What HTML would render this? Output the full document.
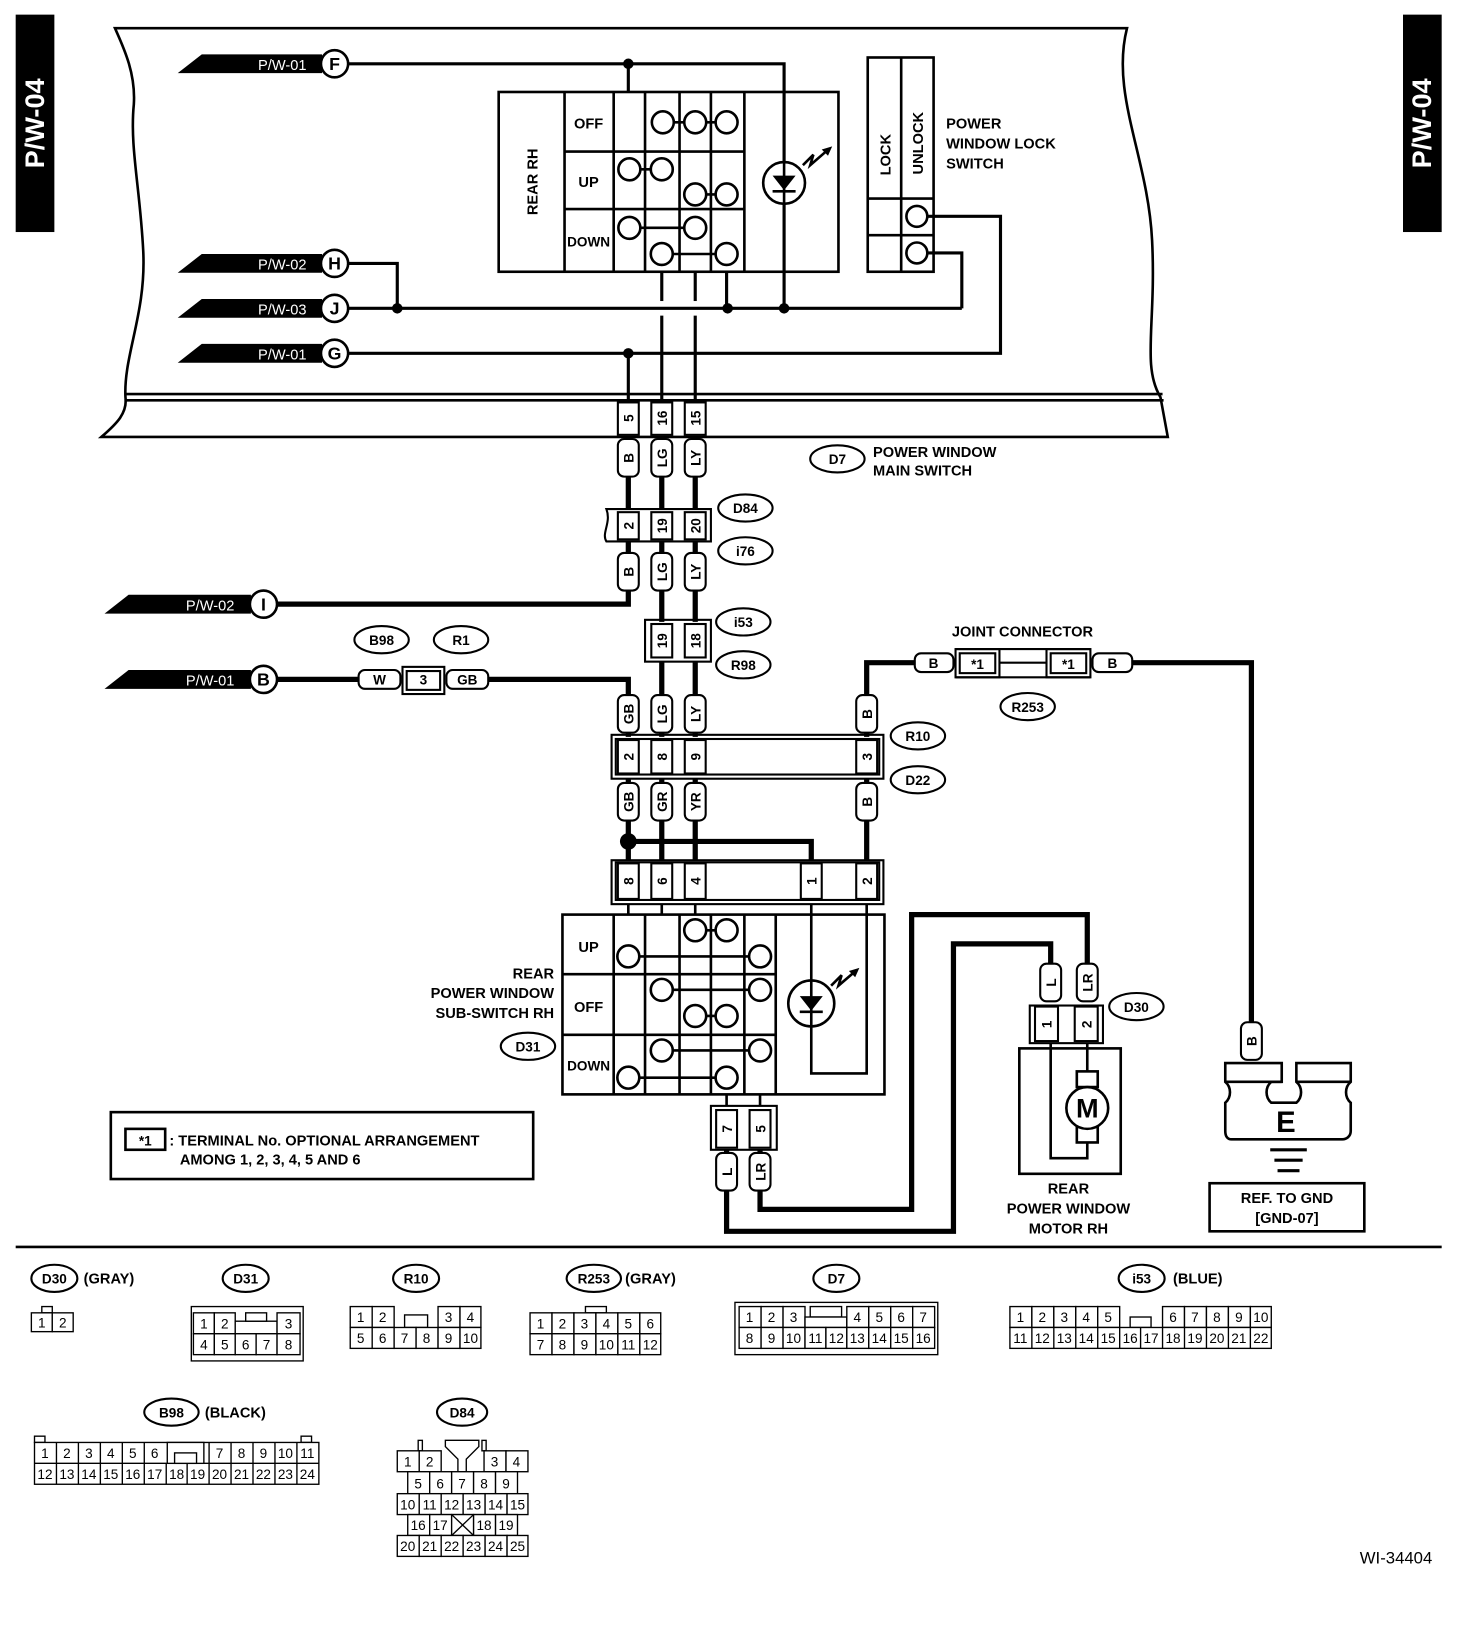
<!DOCTYPE html>
<html><head><meta charset="utf-8"><style>
html,body{margin:0;padding:0;background:#fff}
svg{display:block}
text{font-family:"Liberation Sans",Arial,sans-serif;font-weight:bold;fill:#000}
.n{font-weight:normal;font-size:13px;text-anchor:middle}
.c{fill:#fff;stroke:#000;stroke-width:1.3}
.lb{font-size:14px}
.t{fill:#fff;stroke:#000;stroke-width:2}
.m{text-anchor:middle}
</style></head><body>
<svg width="1472" height="1640" viewBox="0 0 1408 1569" preserveAspectRatio="none" xmlns="http://www.w3.org/2000/svg">
<rect width="1408" height="1569" fill="#fff"/>
<!-- side tabs -->
<rect x="15" y="14" width="37" height="208" fill="#000"/>
<text transform="translate(42,118) rotate(-90)" class="m" font-size="26" style="fill:#fff">P/W-04</text>
<rect x="1342" y="14" width="37" height="208" fill="#000"/>
<text transform="translate(1369,118) rotate(-90)" class="m" font-size="26" style="fill:#fff">P/W-04</text>

<!-- outline -->
<g fill="none" stroke="#000" stroke-width="2.5">
<path d="M110,27 L1078,27 C1062,90 1098,150 1102,230 C1106,310 1092,350 1110,380 L1117,418 L97,418 C112,405 122,395 120,380 C118,340 140,300 137,240 C134,180 124,140 128,100 C130,70 118,45 110,27 Z"/>
<line x1="119" y1="377" x2="1112" y2="377"/>
<line x1="119" y1="383" x2="1113" y2="383"/>
</g>

<!-- flags -->
<g>
<polygon points="170,70 193,52 308,52 308,70" fill="#000"/><text x="270" y="67" class="m" font-size="14" font-weight="normal" style="fill:#fff;font-weight:normal">P/W-01</text>
<polygon points="170,261 193,243 308,243 308,261" fill="#000"/><text x="270" y="258" class="m" font-size="14" style="fill:#fff;font-weight:normal">P/W-02</text>
<polygon points="170,304 193,286 308,286 308,304" fill="#000"/><text x="270" y="301" class="m" font-size="14" style="fill:#fff;font-weight:normal">P/W-03</text>
<polygon points="170,347 193,329 308,329 308,347" fill="#000"/><text x="270" y="344" class="m" font-size="14" style="fill:#fff;font-weight:normal">P/W-01</text>
<polygon points="100,587 123,569 240,569 240,587" fill="#000"/><text x="201" y="584" class="m" font-size="14" style="fill:#fff;font-weight:normal">P/W-02</text>
<polygon points="100,659 123,641 240,641 240,659" fill="#000"/><text x="201" y="656" class="m" font-size="14" style="fill:#fff;font-weight:normal">P/W-01</text>
</g>

<!-- top wires -->
<g stroke="#000" stroke-width="3" fill="none">
<polyline points="333,61 750,61 750,295"/>
<line x1="601" y1="61" x2="601" y2="88"/>
<polyline points="333,252 380,252 380,295"/>
<line x1="333" y1="295" x2="920" y2="295"/>
<polyline points="333,338 957,338 957,207 888,207"/>
<polyline points="920,295 920,242 888,242"/>
<line x1="601" y1="338" x2="601" y2="383"/>
<line x1="633" y1="260" x2="633" y2="288"/><line x1="633" y1="302" x2="633" y2="383"/>
<line x1="665" y1="260" x2="665" y2="288"/><line x1="665" y1="302" x2="665" y2="383"/>
<line x1="695" y1="260" x2="695" y2="295"/>
</g>
<g fill="#000"><circle cx="601" cy="61" r="5"/><circle cx="380" cy="295" r="5"/><circle cx="696" cy="295" r="5"/><circle cx="750" cy="295" r="5"/><circle cx="601" cy="338" r="5"/></g>
<g stroke="#000" stroke-width="2.5" fill="#fff">
<circle cx="320" cy="61" r="13"/><circle cx="320" cy="252" r="13"/><circle cx="320" cy="295" r="13"/><circle cx="320" cy="338" r="13"/>
<circle cx="252" cy="578" r="13"/><circle cx="252" cy="650" r="13"/>
</g>
<g font-size="17" class="m" text-anchor="middle">
<text x="320" y="67" text-anchor="middle">F</text><text x="320" y="258" text-anchor="middle">H</text><text x="320" y="301" text-anchor="middle">J</text><text x="320" y="344" text-anchor="middle">G</text>
<text x="252" y="584" text-anchor="middle">I</text><text x="252" y="656" text-anchor="middle">B</text>
</g>

<!-- main switch box -->
<g stroke="#000" stroke-width="2.5" fill="none">
<rect x="477" y="88" width="325" height="172"/>
<line x1="540" y1="88" x2="540" y2="260"/>
<line x1="540" y1="145" x2="712" y2="145"/><line x1="540" y1="200" x2="712" y2="200"/>
<line x1="587" y1="88" x2="587" y2="260"/><line x1="617" y1="88" x2="617" y2="260"/>
<line x1="650" y1="88" x2="650" y2="260"/><line x1="680" y1="88" x2="680" y2="260"/>
<line x1="712" y1="88" x2="712" y2="260"/>
<line x1="634" y1="117" x2="695" y2="117"/><line x1="602" y1="162" x2="633" y2="162"/><line x1="665" y1="186" x2="695" y2="186"/>
<line x1="602" y1="218" x2="665" y2="218"/><line x1="633" y1="243" x2="695" y2="243"/>
</g>
<g stroke="#000" stroke-width="2.5" fill="#fff">
<circle cx="634" cy="117" r="10.5"/><circle cx="665" cy="117" r="10.5"/><circle cx="695" cy="117" r="10.5"/>
<circle cx="602" cy="162" r="10.5"/><circle cx="633" cy="162" r="10.5"/><circle cx="665" cy="186" r="10.5"/><circle cx="695" cy="186" r="10.5"/>
<circle cx="602" cy="218" r="10.5"/><circle cx="665" cy="218" r="10.5"/><circle cx="633" cy="243" r="10.5"/><circle cx="695" cy="243" r="10.5"/>
<circle cx="750" cy="175" r="20"/>
</g>
<polygon points="739,168 761,168 750,182" fill="#000"/><line x1="739" y1="183" x2="761" y2="183" stroke="#000" stroke-width="2.5"/>
<line x1="750" y1="155" x2="750" y2="195" stroke="#000" stroke-width="2.5"/>
<polyline points="768,158 778,148 775,158 790,145" stroke="#000" stroke-width="2.5" fill="none"/><polygon points="796,140 786,143 792,149" fill="#000"/>
<text transform="translate(514,174) rotate(-90)" class="m" font-size="14">REAR RH</text>
<text x="563" y="123" class="m" font-size="14">OFF</text><text x="563" y="179" class="m" font-size="14">UP</text><text x="563" y="236" class="m" font-size="13">DOWN</text>

<!-- lock switch -->
<g stroke="#000" stroke-width="2.5" fill="none">
<rect x="830" y="55" width="63" height="205"/><line x1="862" y1="55" x2="862" y2="260"/>
<line x1="830" y1="190" x2="893" y2="190"/><line x1="830" y1="225" x2="893" y2="225"/>
</g>
<g stroke="#000" stroke-width="2.5" fill="#fff"><circle cx="877" cy="207" r="10"/><circle cx="877" cy="242" r="10"/></g>
<text transform="translate(852,148) rotate(-90)" class="m" font-size="14">LOCK</text>
<text transform="translate(883,137) rotate(-90)" class="m" font-size="14">UNLOCK</text>
<text x="905" y="123" font-size="14">POWER</text><text x="905" y="142" font-size="14">WINDOW LOCK</text><text x="905" y="161" font-size="14">SWITCH</text>

<!-- strip terminals -->
<g class="t" stroke="#000" stroke-width="2" fill="#fff">
<rect x="591" y="385" width="20" height="31"/><rect x="623" y="385" width="20" height="31"/><rect x="655" y="385" width="20" height="31"/>
</g>
<g font-size="13" class="m"><text transform="translate(606,400) rotate(-90)" text-anchor="middle">5</text><text transform="translate(638,400) rotate(-90)" text-anchor="middle">16</text><text transform="translate(670,400) rotate(-90)" text-anchor="middle">15</text></g>

<!-- thick wires -->
<g stroke="#000" stroke-width="5" fill="none">
<line x1="601" y1="418" x2="601" y2="487"/><line x1="633" y1="418" x2="633" y2="487"/><line x1="665" y1="418" x2="665" y2="487"/>
<polyline points="601,518 601,578 265,578"/><line x1="633" y1="518" x2="633" y2="595"/><line x1="665" y1="518" x2="665" y2="595"/>
<line x1="265" y1="650" x2="345" y2="650"/><polyline points="465,650 601,650 601,705"/>
<line x1="633" y1="633" x2="633" y2="705"/><line x1="665" y1="633" x2="665" y2="705"/>
<polyline points="829,705 829,634 877,634"/><polyline points="1083,634 1197,634 1197,980"/>
<line x1="601" y1="745" x2="601" y2="823"/><line x1="633" y1="745" x2="633" y2="823"/><line x1="665" y1="745" x2="665" y2="823"/><line x1="829" y1="745" x2="829" y2="823"/>
<polyline points="601,805 776,805 776,823"/>
<polyline points="695,1100 695,1178 912,1178 912,903 1005,903 1005,925"/>
<polyline points="727,1100 727,1157 872,1157 872,875 1040,875 1040,925"/>
</g>
<circle cx="601" cy="805" r="8" fill="#000"/>

<!-- wire tags -->
<g stroke="#000" stroke-width="2" fill="#fff">
<rect x="591" y="420" width="20" height="36" rx="6"/><rect x="623" y="420" width="20" height="36" rx="6"/><rect x="655" y="420" width="20" height="36" rx="6"/>
<rect x="591" y="529" width="20" height="36" rx="6"/><rect x="623" y="529" width="20" height="36" rx="6"/><rect x="655" y="529" width="20" height="36" rx="6"/>
<rect x="591" y="665" width="20" height="36" rx="6"/><rect x="623" y="665" width="20" height="36" rx="6"/><rect x="655" y="665" width="20" height="36" rx="6"/><rect x="819" y="665" width="20" height="36" rx="6"/>
<rect x="591" y="749" width="20" height="36" rx="6"/><rect x="623" y="749" width="20" height="36" rx="6"/><rect x="655" y="749" width="20" height="36" rx="6"/><rect x="819" y="749" width="20" height="36" rx="6"/>
<rect x="685" y="1103" width="20" height="36" rx="6"/><rect x="717" y="1103" width="20" height="36" rx="6"/>
<rect x="995" y="922" width="20" height="36" rx="6"/><rect x="1030" y="922" width="20" height="36" rx="6"/>
<rect x="1187" y="978" width="20" height="36" rx="6"/>
<rect x="343" y="641" width="40" height="18" rx="6"/><rect x="427" y="641" width="40" height="18" rx="6"/>
<rect x="875" y="625" width="37" height="18" rx="6"/><rect x="1045" y="625" width="38" height="18" rx="6"/>
</g>
<g font-size="13">
<text transform="translate(606,438) rotate(-90)" text-anchor="middle">B</text><text transform="translate(638,438) rotate(-90)" text-anchor="middle">LG</text><text transform="translate(670,438) rotate(-90)" text-anchor="middle">LY</text>
<text transform="translate(606,547) rotate(-90)" text-anchor="middle">B</text><text transform="translate(638,547) rotate(-90)" text-anchor="middle">LG</text><text transform="translate(670,547) rotate(-90)" text-anchor="middle">LY</text>
<text transform="translate(606,683) rotate(-90)" text-anchor="middle">GB</text><text transform="translate(638,683) rotate(-90)" text-anchor="middle">LG</text><text transform="translate(670,683) rotate(-90)" text-anchor="middle">LY</text><text transform="translate(834,683) rotate(-90)" text-anchor="middle">B</text>
<text transform="translate(606,767) rotate(-90)" text-anchor="middle">GB</text><text transform="translate(638,767) rotate(-90)" text-anchor="middle">GR</text><text transform="translate(670,767) rotate(-90)" text-anchor="middle">YR</text><text transform="translate(834,767) rotate(-90)" text-anchor="middle">B</text>
<text transform="translate(700,1121) rotate(-90)" text-anchor="middle">L</text><text transform="translate(732,1121) rotate(-90)" text-anchor="middle">LR</text>
<text transform="translate(1010,940) rotate(-90)" text-anchor="middle">L</text><text transform="translate(1045,940) rotate(-90)" text-anchor="middle">LR</text>
<text transform="translate(1202,996) rotate(-90)" text-anchor="middle">B</text>
<text x="363" y="655" text-anchor="middle">W</text><text x="447" y="655" text-anchor="middle">GB</text>
<text x="893" y="639" text-anchor="middle">B</text><text x="1064" y="639" text-anchor="middle">B</text>
</g>

<!-- connectors -->
<g stroke="#000" stroke-width="2" fill="#fff">
<path d="M580,487 L680,487 L680,518 L580,518 C575,510 585,500 580,487 Z" fill="none"/>
<rect x="591" y="490" width="20" height="26"/><rect x="623" y="490" width="20" height="26"/><rect x="655" y="490" width="20" height="26"/>
<rect x="617" y="593" width="63" height="40" fill="none"/>
<rect x="623" y="597" width="20" height="32"/><rect x="655" y="597" width="20" height="32"/>
<rect x="385" y="638" width="40" height="26" fill="none"/><rect x="389" y="642" width="32" height="18"/>
<rect x="585" y="703" width="260" height="42" fill="none"/><rect x="589" y="707" width="252" height="34" fill="none"/>
<rect x="591" y="708" width="20" height="32"/><rect x="623" y="708" width="20" height="32"/><rect x="655" y="708" width="20" height="32"/><rect x="819" y="708" width="20" height="32"/>
<rect x="914" y="621" width="42" height="27" fill="none"/><rect x="918" y="625" width="34" height="19"/>
<rect x="1001" y="621" width="42" height="27" fill="none"/><rect x="1005" y="625" width="34" height="19"/>
<line x1="914" y1="621" x2="1043" y2="621"/><line x1="914" y1="648" x2="1043" y2="648"/><line x1="956" y1="634" x2="1001" y2="634"/>
<rect x="585" y="823" width="260" height="42" fill="none"/><rect x="589" y="825" width="252" height="36" fill="none"/>
<rect x="591" y="826" width="20" height="34"/><rect x="623" y="826" width="20" height="34"/><rect x="655" y="826" width="20" height="34"/><rect x="766" y="826" width="20" height="34"/><rect x="819" y="826" width="20" height="34"/>
<rect x="680" y="1058" width="63" height="42" fill="none"/><rect x="685" y="1062" width="20" height="36"/><rect x="717" y="1062" width="20" height="36"/>
<rect x="985" y="962" width="70" height="36" fill="none"/><rect x="990" y="963" width="22" height="33"/><rect x="1028" y="963" width="22" height="33"/>
</g>
<g font-size="13">
<text transform="translate(606,503) rotate(-90)" text-anchor="middle">2</text><text transform="translate(638,503) rotate(-90)" text-anchor="middle">19</text><text transform="translate(670,503) rotate(-90)" text-anchor="middle">20</text>
<text transform="translate(638,613) rotate(-90)" text-anchor="middle">19</text><text transform="translate(670,613) rotate(-90)" text-anchor="middle">18</text>
<text x="405" y="655" text-anchor="middle">3</text>
<text transform="translate(606,724) rotate(-90)" text-anchor="middle">2</text><text transform="translate(638,724) rotate(-90)" text-anchor="middle">8</text><text transform="translate(670,724) rotate(-90)" text-anchor="middle">9</text><text transform="translate(834,724) rotate(-90)" text-anchor="middle">3</text>
<text x="935" y="640" text-anchor="middle">*1</text><text x="1022" y="640" text-anchor="middle">*1</text>
<text transform="translate(606,843) rotate(-90)" text-anchor="middle">8</text><text transform="translate(638,843) rotate(-90)" text-anchor="middle">6</text><text transform="translate(670,843) rotate(-90)" text-anchor="middle">4</text><text transform="translate(781,843) rotate(-90)" text-anchor="middle">1</text><text transform="translate(834,843) rotate(-90)" text-anchor="middle">2</text>
<text transform="translate(700,1080) rotate(-90)" text-anchor="middle">7</text><text transform="translate(732,1080) rotate(-90)" text-anchor="middle">5</text>
<text transform="translate(1006,980) rotate(-90)" text-anchor="middle">1</text><text transform="translate(1044,980) rotate(-90)" text-anchor="middle">2</text>
</g>
<text x="978" y="609" font-size="14" text-anchor="middle">JOINT CONNECTOR</text>

<!-- ovals -->
<g stroke="#000" stroke-width="2" fill="#fff">
<ellipse cx="801" cy="439" rx="26" ry="13"/><ellipse cx="713" cy="486" rx="26" ry="13"/><ellipse cx="713" cy="527" rx="26" ry="13"/>
<ellipse cx="711" cy="595" rx="26" ry="13"/><ellipse cx="711" cy="636" rx="26" ry="13"/>
<ellipse cx="365" cy="612" rx="26" ry="13"/><ellipse cx="441" cy="612" rx="26" ry="13"/>
<ellipse cx="878" cy="704" rx="26" ry="13"/><ellipse cx="878" cy="746" rx="26" ry="13"/><ellipse cx="983" cy="676" rx="26" ry="13"/>
<ellipse cx="505" cy="1001" rx="26" ry="13"/><ellipse cx="1087" cy="963" rx="26" ry="13"/>
<ellipse cx="52" cy="1223" rx="22" ry="13"/><ellipse cx="235" cy="1223" rx="22" ry="13"/><ellipse cx="398" cy="1223" rx="22" ry="13"/>
<ellipse cx="568" cy="1223" rx="26" ry="13"/><ellipse cx="800" cy="1223" rx="22" ry="13"/><ellipse cx="1092" cy="1223" rx="22" ry="13"/>
<ellipse cx="164" cy="1351" rx="26" ry="13"/><ellipse cx="442" cy="1351" rx="24" ry="13"/>
</g>
<g font-size="13" text-anchor="middle">
<text x="801" y="444" text-anchor="middle">D7</text><text x="713" y="491" text-anchor="middle">D84</text><text x="713" y="532" text-anchor="middle">i76</text>
<text x="711" y="600" text-anchor="middle">i53</text><text x="711" y="641" text-anchor="middle">R98</text>
<text x="365" y="617" text-anchor="middle">B98</text><text x="441" y="617" text-anchor="middle">R1</text>
<text x="878" y="709" text-anchor="middle">R10</text><text x="878" y="751" text-anchor="middle">D22</text><text x="983" y="681" text-anchor="middle">R253</text>
<text x="505" y="1006" text-anchor="middle">D31</text><text x="1087" y="968" text-anchor="middle">D30</text>
<text x="52" y="1228" text-anchor="middle">D30</text><text x="235" y="1228" text-anchor="middle">D31</text><text x="398" y="1228" text-anchor="middle">R10</text>
<text x="568" y="1228" text-anchor="middle">R253</text><text x="800" y="1228" text-anchor="middle">D7</text><text x="1092" y="1228" text-anchor="middle">i53</text>
<text x="164" y="1356" text-anchor="middle">B98</text><text x="442" y="1356" text-anchor="middle">D84</text>
</g>
<g font-size="14">
<text x="835" y="437">POWER WINDOW</text><text x="835" y="455">MAIN SWITCH</text>
<text x="80" y="1228">(GRAY)</text><text x="598" y="1228">(GRAY)</text><text x="1122" y="1228">(BLUE)</text><text x="196" y="1356">(BLACK)</text>
<text x="530" y="936" text-anchor="end">REAR</text><text x="530" y="955" text-anchor="end">POWER WINDOW</text><text x="530" y="974" text-anchor="end">SUB-SWITCH RH</text>
<text x="1022" y="1142" text-anchor="middle">REAR</text><text x="1022" y="1161" text-anchor="middle">POWER WINDOW</text><text x="1022" y="1180" text-anchor="middle">MOTOR RH</text>
</g>

<!-- sub switch -->
<g stroke="#000" stroke-width="2.5" fill="none">
<line x1="601" y1="865" x2="601" y2="875"/><line x1="633" y1="865" x2="633" y2="875"/><line x1="665" y1="865" x2="665" y2="875"/>
<rect x="538" y="875" width="308" height="172"/>
<line x1="538" y1="932" x2="742" y2="932"/><line x1="538" y1="990" x2="742" y2="990"/>
<line x1="587" y1="875" x2="587" y2="1047"/><line x1="617" y1="875" x2="617" y2="1047"/><line x1="650" y1="875" x2="650" y2="1047"/>
<line x1="680" y1="875" x2="680" y2="1047"/><line x1="712" y1="875" x2="712" y2="1047"/><line x1="742" y1="875" x2="742" y2="1047"/>
<line x1="665" y1="890" x2="695" y2="890"/><line x1="601" y1="915" x2="727" y2="915"/>
<line x1="633" y1="947" x2="727" y2="947"/><line x1="665" y1="972" x2="695" y2="972"/>
<line x1="633" y1="1005" x2="727" y2="1005"/><line x1="601" y1="1031" x2="695" y2="1031"/>
<polyline points="776,865 776,1027 829,1027 829,865"/>
<line x1="695" y1="1047" x2="695" y2="1058"/><line x1="727" y1="1047" x2="727" y2="1058"/>
</g>
<g stroke="#000" stroke-width="2.5" fill="#fff">
<circle cx="665" cy="890" r="10.5"/><circle cx="695" cy="890" r="10.5"/><circle cx="601" cy="915" r="10.5"/><circle cx="727" cy="915" r="10.5"/>
<circle cx="633" cy="947" r="10.5"/><circle cx="727" cy="947" r="10.5"/><circle cx="665" cy="972" r="10.5"/><circle cx="695" cy="972" r="10.5"/>
<circle cx="633" cy="1005" r="10.5"/><circle cx="727" cy="1005" r="10.5"/><circle cx="601" cy="1031" r="10.5"/><circle cx="695" cy="1031" r="10.5"/>
<circle cx="776" cy="960" r="22"/>
</g>
<polygon points="765,953 787,953 776,967" fill="#000"/><line x1="765" y1="968" x2="787" y2="968" stroke="#000" stroke-width="2.5"/>
<line x1="776" y1="938" x2="776" y2="982" stroke="#000" stroke-width="2.5"/>
<polyline points="795,943 805,933 802,943 816,931" stroke="#000" stroke-width="2.5" fill="none"/><polygon points="822,926 812,929 818,935" fill="#000"/>
<text x="563" y="911" class="m" font-size="14">UP</text><text x="563" y="968" class="m" font-size="14">OFF</text><text x="563" y="1024" class="m" font-size="13">DOWN</text>

<!-- motor -->
<g stroke="#000" stroke-width="2.5" fill="none">
<rect x="975" y="1003" width="97" height="120"/>
<polyline points="1005,998 1005,1108 1040,1108 1040,1090"/>
<line x1="1040" y1="998" x2="1040" y2="1025"/>
<rect x="1030" y="1025" width="20" height="15" fill="#fff"/><rect x="1030" y="1078" width="20" height="15" fill="#fff"/>
<circle cx="1040" cy="1060" r="20" fill="#fff"/>
</g>
<text x="1040" y="1069" font-size="26" text-anchor="middle">M</text>

<!-- ground -->
<g stroke="#000" stroke-width="2.5" fill="#fff">
<path d="M1172,1017 L1226,1017 L1226,1035 L1216,1035 C1210,1040 1210,1050 1216,1055 L1240,1055 C1246,1050 1246,1040 1240,1035 L1240,1017 L1292,1017 L1292,1035 C1286,1040 1286,1050 1292,1055 L1292,1082 C1292,1087 1288,1090 1284,1090 L1178,1090 C1174,1090 1172,1087 1172,1082 L1172,1055 C1178,1050 1178,1040 1172,1035 Z"/>
<line x1="1172" y1="1035" x2="1226" y2="1035"/><line x1="1240" y1="1035" x2="1292" y2="1035"/>
<rect x="1157" y="1132" width="148" height="46"/>
<rect x="106" y="1064" width="404" height="64"/>
<rect x="120" y="1080" width="38" height="20"/>
</g>
<g stroke="#000" stroke-width="3"><line x1="1215" y1="1100" x2="1250" y2="1100"/><line x1="1219" y1="1110" x2="1246" y2="1110"/><line x1="1222" y1="1120" x2="1243" y2="1120"/></g>
<text x="1230" y="1083" font-size="28" text-anchor="middle">E</text>
<text x="1231" y="1151" font-size="14" text-anchor="middle">REF. TO GND</text><text x="1231" y="1170" font-size="14" text-anchor="middle">[GND-07]</text>
<text x="139" y="1096" font-size="13" text-anchor="middle">*1</text>
<text x="162" y="1096" font-size="14">: TERMINAL No. OPTIONAL ARRANGEMENT</text>
<text x="172" y="1114" font-size="14">AMONG 1, 2, 3, 4, 5 AND 6</text>

<line x1="15" y1="1193" x2="1379" y2="1193" stroke="#000" stroke-width="2.5"/>
<text x="1370" y="1496" font-size="16" text-anchor="end" style="font-weight:normal">WI-34404</text>

<!-- connector tables -->
<g>
<!-- D30 -->
<rect x="40" y="1250" width="10" height="6" class="c"/>
<rect x="30" y="1256" width="20" height="18" class="c"/><rect x="50" y="1256" width="20" height="18" class="c"/>
<text x="40" y="1270" class="n">1</text><text x="60" y="1270" class="n">2</text>
<!-- D31 -->
<rect x="183" y="1250" width="107" height="52" class="c"/>
<rect x="185" y="1256" width="20" height="20" class="c"/><rect x="205" y="1256" width="20" height="20" class="c"/><rect x="225" y="1264" width="40" height="12" class="c"/><rect x="235" y="1256" width="20" height="8" class="c"/><rect x="265" y="1256" width="22" height="20" class="c"/>
<rect x="185" y="1276" width="20" height="20" class="c"/><rect x="205" y="1276" width="20" height="20" class="c"/><rect x="225" y="1276" width="20" height="20" class="c"/><rect x="245" y="1276" width="20" height="20" class="c"/><rect x="265" y="1276" width="22" height="20" class="c"/>
<text x="195" y="1271" class="n">1</text><text x="215" y="1271" class="n">2</text><text x="276" y="1271" class="n">3</text>
<text x="195" y="1291" class="n">4</text><text x="215" y="1291" class="n">5</text><text x="235" y="1291" class="n">6</text><text x="255" y="1291" class="n">7</text><text x="276" y="1291" class="n">8</text>
<!-- R10 -->
<rect x="335" y="1250" width="21" height="20" class="c"/><rect x="356" y="1250" width="21" height="20" class="c"/><rect x="387" y="1258" width="22" height="12" class="c"/><rect x="419" y="1250" width="21" height="20" class="c"/><rect x="440" y="1250" width="20" height="20" class="c"/>
<rect x="335" y="1270" width="21" height="20" class="c"/><rect x="356" y="1270" width="21" height="20" class="c"/><rect x="377" y="1270" width="21" height="20" class="c"/><rect x="398" y="1270" width="21" height="20" class="c"/><rect x="419" y="1270" width="21" height="20" class="c"/><rect x="440" y="1270" width="20" height="20" class="c"/>
<text x="345" y="1265" class="n">1</text><text x="366" y="1265" class="n">2</text><text x="429" y="1265" class="n">3</text><text x="450" y="1265" class="n">4</text>
<text x="345" y="1285" class="n">5</text><text x="366" y="1285" class="n">6</text><text x="387" y="1285" class="n">7</text><text x="408" y="1285" class="n">8</text><text x="429" y="1285" class="n">9</text><text x="450" y="1285" class="n">10</text>
<!-- R253 -->
<rect x="560" y="1250" width="20" height="6" class="c"/>
<rect x="507" y="1256" width="21" height="20" class="c"/><rect x="528" y="1256" width="21" height="20" class="c"/><rect x="549" y="1256" width="21" height="20" class="c"/><rect x="570" y="1256" width="21" height="20" class="c"/><rect x="591" y="1256" width="21" height="20" class="c"/><rect x="612" y="1256" width="20" height="20" class="c"/>
<rect x="507" y="1276" width="21" height="20" class="c"/><rect x="528" y="1276" width="21" height="20" class="c"/><rect x="549" y="1276" width="21" height="20" class="c"/><rect x="570" y="1276" width="21" height="20" class="c"/><rect x="591" y="1276" width="21" height="20" class="c"/><rect x="612" y="1276" width="20" height="20" class="c"/>
<text x="517" y="1271" class="n">1</text><text x="538" y="1271" class="n">2</text><text x="559" y="1271" class="n">3</text><text x="580" y="1271" class="n">4</text><text x="601" y="1271" class="n">5</text><text x="622" y="1271" class="n">6</text>
<text x="517" y="1291" class="n">7</text><text x="538" y="1291" class="n">8</text><text x="559" y="1291" class="n">9</text><text x="580" y="1291" class="n">10</text><text x="601" y="1291" class="n">11</text><text x="622" y="1291" class="n">12</text>
<!-- D7 -->
<rect x="703" y="1246" width="194" height="50" class="c"/>
<rect x="707" y="1250" width="21" height="20" class="c"/><rect x="728" y="1250" width="21" height="20" class="c"/><rect x="749" y="1250" width="21" height="20" class="c"/><rect x="775" y="1250" width="30" height="10" class="c"/><rect x="770" y="1260" width="40" height="10" class="c"/>
<rect x="810" y="1250" width="21" height="20" class="c"/><rect x="831" y="1250" width="21" height="20" class="c"/><rect x="852" y="1250" width="21" height="20" class="c"/><rect x="873" y="1250" width="21" height="20" class="c"/>
<rect x="707" y="1270" width="21" height="20" class="c"/><rect x="728" y="1270" width="21" height="20" class="c"/><rect x="749" y="1270" width="21" height="20" class="c"/><rect x="770" y="1270" width="20" height="20" class="c"/><rect x="790" y="1270" width="20" height="20" class="c"/><rect x="810" y="1270" width="21" height="20" class="c"/><rect x="831" y="1270" width="21" height="20" class="c"/><rect x="852" y="1270" width="21" height="20" class="c"/><rect x="873" y="1270" width="21" height="20" class="c"/>
<text x="717" y="1265" class="n">1</text><text x="738" y="1265" class="n">2</text><text x="759" y="1265" class="n">3</text><text x="820" y="1265" class="n">4</text><text x="841" y="1265" class="n">5</text><text x="862" y="1265" class="n">6</text><text x="883" y="1265" class="n">7</text>
<text x="717" y="1285" class="n">8</text><text x="738" y="1285" class="n">9</text><text x="759" y="1285" class="n">10</text><text x="780" y="1285" class="n">11</text><text x="800" y="1285" class="n">12</text><text x="820" y="1285" class="n">13</text><text x="841" y="1285" class="n">14</text><text x="862" y="1285" class="n">15</text><text x="883" y="1285" class="n">16</text>
<!-- i53 -->
<rect x="966" y="1250" width="21" height="20" class="c"/><rect x="987" y="1250" width="21" height="20" class="c"/><rect x="1008" y="1250" width="21" height="20" class="c"/><rect x="1029" y="1250" width="21" height="20" class="c"/><rect x="1050" y="1250" width="21" height="20" class="c"/>
<rect x="1081" y="1260" width="20" height="10" class="c"/>
<rect x="1112" y="1250" width="21" height="20" class="c"/><rect x="1133" y="1250" width="21" height="20" class="c"/><rect x="1154" y="1250" width="21" height="20" class="c"/><rect x="1175" y="1250" width="21" height="20" class="c"/><rect x="1196" y="1250" width="20" height="20" class="c"/>
<rect x="966" y="1270" width="250" height="20" class="c"/>
<g stroke="#000" stroke-width="1.3"><line x1="987" y1="1270" x2="987" y2="1290"/><line x1="1008" y1="1270" x2="1008" y2="1290"/><line x1="1029" y1="1270" x2="1029" y2="1290"/><line x1="1050" y1="1270" x2="1050" y2="1290"/><line x1="1071" y1="1270" x2="1071" y2="1290"/><line x1="1091" y1="1270" x2="1091" y2="1290"/><line x1="1112" y1="1270" x2="1112" y2="1290"/><line x1="1133" y1="1270" x2="1133" y2="1290"/><line x1="1154" y1="1270" x2="1154" y2="1290"/><line x1="1175" y1="1270" x2="1175" y2="1290"/><line x1="1196" y1="1270" x2="1196" y2="1290"/></g>
<text x="976" y="1265" class="n">1</text><text x="997" y="1265" class="n">2</text><text x="1018" y="1265" class="n">3</text><text x="1039" y="1265" class="n">4</text><text x="1060" y="1265" class="n">5</text><text x="1122" y="1265" class="n">6</text><text x="1143" y="1265" class="n">7</text><text x="1164" y="1265" class="n">8</text><text x="1185" y="1265" class="n">9</text><text x="1206" y="1265" class="n">10</text>
<text x="976" y="1285" class="n">11</text><text x="997" y="1285" class="n">12</text><text x="1018" y="1285" class="n">13</text><text x="1039" y="1285" class="n">14</text><text x="1060" y="1285" class="n">15</text><text x="1081" y="1285" class="n">16</text><text x="1101" y="1285" class="n">17</text><text x="1122" y="1285" class="n">18</text><text x="1143" y="1285" class="n">19</text><text x="1164" y="1285" class="n">20</text><text x="1185" y="1285" class="n">21</text><text x="1206" y="1285" class="n">22</text>
<!-- B98 -->
<rect x="33" y="1374" width="10" height="6" class="c"/><rect x="288" y="1374" width="10" height="6" class="c"/>
<rect x="33" y="1380" width="272" height="40" class="c"/>
<rect x="160" y="1380" width="35" height="20" class="c"/><rect x="167" y="1390" width="21" height="10" class="c"/>
<g stroke="#000" stroke-width="1.3"><line x1="33" y1="1400" x2="160" y2="1400"/><line x1="195" y1="1400" x2="305" y2="1400"/>
<line x1="54" y1="1380" x2="54" y2="1420"/><line x1="75" y1="1380" x2="75" y2="1420"/><line x1="96" y1="1380" x2="96" y2="1420"/><line x1="117" y1="1380" x2="117" y2="1420"/><line x1="138" y1="1380" x2="138" y2="1420"/><line x1="159" y1="1400" x2="159" y2="1420"/><line x1="179" y1="1400" x2="179" y2="1420"/><line x1="200" y1="1380" x2="200" y2="1420"/><line x1="221" y1="1380" x2="221" y2="1420"/><line x1="242" y1="1380" x2="242" y2="1420"/><line x1="263" y1="1380" x2="263" y2="1420"/><line x1="284" y1="1380" x2="284" y2="1420"/></g>
<text x="43" y="1395" class="n">1</text><text x="64" y="1395" class="n">2</text><text x="85" y="1395" class="n">3</text><text x="106" y="1395" class="n">4</text><text x="127" y="1395" class="n">5</text><text x="148" y="1395" class="n">6</text><text x="210" y="1395" class="n">7</text><text x="231" y="1395" class="n">8</text><text x="252" y="1395" class="n">9</text><text x="273" y="1395" class="n">10</text><text x="294" y="1395" class="n">11</text>
<text x="43" y="1415" class="n">12</text><text x="64" y="1415" class="n">13</text><text x="85" y="1415" class="n">14</text><text x="106" y="1415" class="n">15</text><text x="127" y="1415" class="n">16</text><text x="148" y="1415" class="n">17</text><text x="169" y="1415" class="n">18</text><text x="189" y="1415" class="n">19</text><text x="210" y="1415" class="n">20</text><text x="231" y="1415" class="n">21</text><text x="252" y="1415" class="n">22</text><text x="273" y="1415" class="n">23</text><text x="294" y="1415" class="n">24</text>
<!-- D84 -->
<rect x="400" y="1378" width="4" height="10" class="c"/><rect x="461" y="1378" width="4" height="10" class="c"/>
<path d="M426,1378 L458,1378 L458,1384 L446,1396 L446,1408 L438,1408 L438,1396 L426,1384 Z" class="c"/>
<rect x="380" y="1388" width="21" height="20" class="c"/><rect x="401" y="1388" width="21" height="20" class="c"/><rect x="463" y="1388" width="21" height="20" class="c"/><rect x="484" y="1388" width="21" height="20" class="c"/>
<rect x="390" y="1408" width="21" height="21" class="c"/><rect x="411" y="1408" width="21" height="21" class="c"/><rect x="432" y="1408" width="21" height="21" class="c"/><rect x="453" y="1408" width="21" height="21" class="c"/><rect x="474" y="1408" width="21" height="21" class="c"/>
<rect x="380" y="1429" width="21" height="20" class="c"/><rect x="401" y="1429" width="21" height="20" class="c"/><rect x="422" y="1429" width="21" height="20" class="c"/><rect x="443" y="1429" width="21" height="20" class="c"/><rect x="464" y="1429" width="21" height="20" class="c"/><rect x="485" y="1429" width="20" height="20" class="c"/>
<rect x="390" y="1449" width="21" height="20" class="c"/><rect x="411" y="1449" width="21" height="20" class="c"/><rect x="432" y="1449" width="21" height="20" class="c"/><rect x="453" y="1449" width="21" height="20" class="c"/><rect x="474" y="1449" width="21" height="20" class="c"/>
<line x1="432" y1="1449" x2="453" y2="1469" stroke="#000" stroke-width="1.3"/><line x1="453" y1="1449" x2="432" y2="1469" stroke="#000" stroke-width="1.3"/>
<rect x="380" y="1469" width="21" height="20" class="c"/><rect x="401" y="1469" width="21" height="20" class="c"/><rect x="422" y="1469" width="21" height="20" class="c"/><rect x="443" y="1469" width="21" height="20" class="c"/><rect x="464" y="1469" width="21" height="20" class="c"/><rect x="485" y="1469" width="20" height="20" class="c"/>
<text x="390" y="1403" class="n">1</text><text x="411" y="1403" class="n">2</text><text x="473" y="1403" class="n">3</text><text x="494" y="1403" class="n">4</text>
<text x="400" y="1424" class="n">5</text><text x="421" y="1424" class="n">6</text><text x="442" y="1424" class="n">7</text><text x="463" y="1424" class="n">8</text><text x="484" y="1424" class="n">9</text>
<text x="390" y="1444" class="n">10</text><text x="411" y="1444" class="n">11</text><text x="432" y="1444" class="n">12</text><text x="453" y="1444" class="n">13</text><text x="474" y="1444" class="n">14</text><text x="495" y="1444" class="n">15</text>
<text x="400" y="1464" class="n">16</text><text x="421" y="1464" class="n">17</text><text x="463" y="1464" class="n">18</text><text x="484" y="1464" class="n">19</text>
<text x="390" y="1484" class="n">20</text><text x="411" y="1484" class="n">21</text><text x="432" y="1484" class="n">22</text><text x="453" y="1484" class="n">23</text><text x="474" y="1484" class="n">24</text><text x="495" y="1484" class="n">25</text>
</g>
</svg>
</body></html>
